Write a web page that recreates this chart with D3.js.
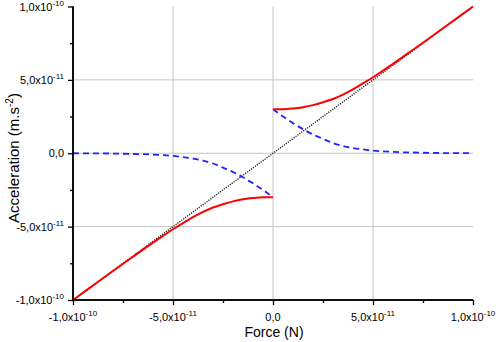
<!DOCTYPE html>
<html>
<head>
<meta charset="utf-8">
<script src="https://cdn.jsdelivr.net/npm/d3@7"></script>
<style>
  body { margin: 0; background: #fff; }
  text { font-family: "Liberation Sans", Arial, sans-serif; fill: #000; }
</style>
</head>
<body>
<svg width="496" height="342"></svg>
<script>
// values in units of 1e-11
var forcePos = [0, 0.5, 1, 1.5, 2, 2.5, 3, 3.5, 4, 4.5, 5, 5.5, 6, 7, 8, 9, 10];
var bluePos  = [3.0, 2.50, 2.05, 1.64, 1.28, 0.98, 0.70, 0.50, 0.36, 0.26, 0.18, 0.13, 0.09, 0.05, 0.02, 0.01, 0.0];
var redPos   = [3.0, 3.0, 3.05, 3.14, 3.28, 3.48, 3.70, 4.00, 4.36, 4.76, 5.18, 5.63, 6.09, 7.05, 8.02, 9.01, 10.0];

var forceNeg = [-10, -9, -8, -7, -6, -5.5, -5, -4.5, -4, -3.5, -3, -2.5, -2, -1.5, -1, -0.5, 0];
var blueNeg  = [0.0, -0.01, -0.02, -0.05, -0.09, -0.13, -0.18, -0.26, -0.36, -0.50, -0.70, -0.98, -1.28, -1.64, -2.05, -2.50, -3.0];
var redNeg   = [-10.0, -9.01, -8.02, -7.05, -6.09, -5.63, -5.18, -4.76, -4.36, -4.00, -3.70, -3.48, -3.28, -3.14, -3.05, -3.0, -3.0];

var diagX = [-10, 10];
var diagY = [-10, 10];

var majorTicks = [-10, -5, 0, 5, 10];
var minorTicks = [-7.5, -2.5, 2.5, 7.5];
var gridTicks = [-5, 0, 5];
var tickLabels = [
  {main: "-1,0x10", sup: "-10"},
  {main: "-5,0x10", sup: "-11"},
  {main: "0,0", sup: ""},
  {main: "5,0x10", sup: "-11"},
  {main: "1,0x10", sup: "-10"}
];

var svg = d3.select("svg");
var pLeft = 73, pRight = 473, pTop = 6.5, pBottom = 300;

var x = d3.scaleLinear().domain([-10, 10]).range([pLeft, pRight]);
var y = d3.scaleLinear().domain([-10, 10]).range([pBottom, pTop]);

// grid
var grid = svg.append("g").attr("stroke", "#c4c4c4").attr("stroke-width", 1);
grid.selectAll(".gx").data(gridTicks).enter().append("line")
  .attr("x1", function(d) { return x(d); }).attr("x2", function(d) { return x(d); })
  .attr("y1", pTop).attr("y2", pBottom);
grid.selectAll(".gy").data(gridTicks).enter().append("line")
  .attr("y1", function(d) { return y(d); }).attr("y2", function(d) { return y(d); })
  .attr("x1", pLeft).attr("x2", pRight);

// curves
var line = d3.line()
  .x(function(d) { return x(d[0]); })
  .y(function(d) { return y(d[1]); })
  .curve(d3.curveMonotoneX);

svg.append("path")
  .datum(d3.zip(diagX, diagY))
  .attr("d", line)
  .attr("fill", "none")
  .attr("stroke", "#222")
  .attr("stroke-width", 1.4)
  .attr("stroke-dasharray", "1.2,1.2");

[d3.zip(forcePos, bluePos), d3.zip(forceNeg, blueNeg)].forEach(function(pts) {
  svg.append("path")
    .datum(pts)
    .attr("d", line)
    .attr("fill", "none")
    .attr("stroke", "#2222ff")
    .attr("stroke-width", 1.8)
    .attr("stroke-dasharray", "6,4");
});

[d3.zip(forcePos, redPos), d3.zip(forceNeg, redNeg)].forEach(function(pts) {
  svg.append("path")
    .datum(pts)
    .attr("d", line)
    .attr("fill", "none")
    .attr("stroke", "#ff0000")
    .attr("stroke-width", 2);
});

// axes
var xAxis = svg.append("g").attr("transform", "translate(0," + pBottom + ")");
xAxis.call(d3.axisBottom(x).tickValues(majorTicks).tickSize(5).tickFormat(""));
xAxis.append("g").call(d3.axisBottom(x).tickValues(minorTicks).tickSize(3).tickFormat(""));
var yAxis = svg.append("g").attr("transform", "translate(" + pLeft + ",0)");
yAxis.call(d3.axisLeft(y).tickValues(majorTicks).tickSize(5).tickFormat(""));
yAxis.append("g").call(d3.axisLeft(y).tickValues(minorTicks).tickSize(3).tickFormat(""));
svg.selectAll(".domain").attr("stroke", "#000").attr("stroke-width", 1.5);
svg.selectAll(".tick line").attr("stroke", "#000").attr("stroke-width", 1.3);
xAxis.selectAll(".domain").attr("d", "M" + pLeft + ",0H" + pRight);
yAxis.selectAll(".domain").attr("d", "M0," + pBottom + "V" + pTop);

function addLabel(g, lab) {
  g.append("tspan").text(lab.main);
  if (lab.sup) {
    g.append("tspan").attr("font-size", 8).attr("dy", -5).text(lab.sup);
  }
}

// x tick labels
svg.selectAll(".xl").data(majorTicks).enter().append("text")
  .attr("x", function(d) { return x(d); })
  .attr("y", 321)
  .attr("text-anchor", "middle")
  .attr("font-size", 11)
  .each(function(d, i) { addLabel(d3.select(this), tickLabels[i]); });

// y tick labels
svg.selectAll(".yl").data(majorTicks).enter().append("text")
  .attr("x", 64)
  .attr("y", function(d) { return y(d) + 4; })
  .attr("text-anchor", "end")
  .attr("font-size", 11)
  .each(function(d, i) { addLabel(d3.select(this), tickLabels[i]); });

// axis titles
svg.append("text")
  .attr("x", 274).attr("y", 337)
  .attr("text-anchor", "middle")
  .attr("font-size", 14)
  .text("Force (N)");

var yt = svg.append("text")
  .attr("transform", "translate(19,158) rotate(-90)")
  .attr("text-anchor", "middle")
  .attr("font-size", 15);
yt.append("tspan").text("Acceleration (m.s");
yt.append("tspan").attr("font-size", 10).attr("dy", -6).text("-2");
yt.append("tspan").attr("dy", 6).text(")");
</script>
</body>
</html>
